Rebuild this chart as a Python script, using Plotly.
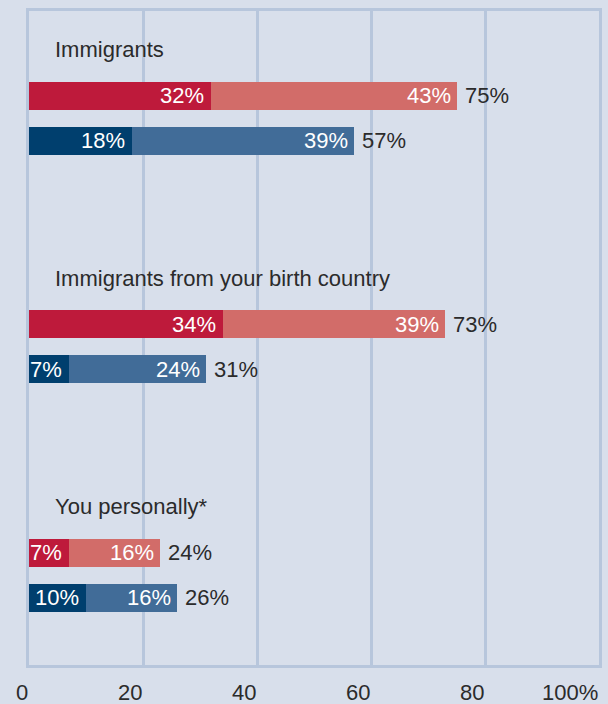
import plotly.graph_objects as go

# ---- data ----
groups = ["Immigrants", "Immigrants from your birth country", "You personally*"]
red_dark = [32, 34, 7]
red_light = [43, 39, 16]
red_total = [75, 73, 24]
blue_dark = [18, 7, 10]
blue_light = [39, 24, 16]
blue_total = [57, 31, 26]
tick_vals = [0, 20, 40, 60, 80, 100]
tick_text = ["0", "20", "40", "60", "80", "100%"]

# ---- style ----
BG = "#d8dfeb"
GRID = "#b7c6dc"
RED_D = "#be1a3b"
RED_L = "#d26c69"
BLUE_D = "#003f6e"
BLUE_L = "#416c98"
TXT = "#2b2b2b"
FONT = "Liberation Sans, Arial, sans-serif"
FS = 22
GROUP_STEP = 5.078
BAR_W = 0.622

red_y = [i * GROUP_STEP for i in range(len(groups))]
blue_y = [y + 1 for y in red_y]

fig = go.Figure()
fig.add_bar(y=red_y, x=red_dark, orientation="h", marker_color=RED_D, width=BAR_W, marker_line_width=0)
fig.add_bar(y=red_y, x=red_light, orientation="h", marker_color=RED_L, width=BAR_W, marker_line_width=0)
fig.add_bar(y=blue_y, x=blue_dark, orientation="h", marker_color=BLUE_D, width=BAR_W, marker_line_width=0)
fig.add_bar(y=blue_y, x=blue_light, orientation="h", marker_color=BLUE_L, width=BAR_W, marker_line_width=0)

ann = []
for i, g in enumerate(groups):
    ann.append(dict(x=0, y=red_y[i] - 1.02, xref="x", yref="y", text=g, showarrow=False,
                    xanchor="left", yanchor="middle", xshift=24, font=dict(size=FS, color=TXT)))
    for y, d, l, t in [(red_y[i], red_dark[i], red_light[i], red_total[i]),
                       (blue_y[i], blue_dark[i], blue_light[i], blue_total[i])]:
        ann.append(dict(x=d, y=y, xref="x", yref="y", text=f"{d}%", showarrow=False,
                        xanchor="right", yanchor="middle", xshift=-5, font=dict(size=FS, color="white")))
        ann.append(dict(x=d + l, y=y, xref="x", yref="y", text=f"{l}%", showarrow=False,
                        xanchor="right", yanchor="middle", xshift=-4, font=dict(size=FS, color="white")))
        ann.append(dict(x=d + l, y=y, xref="x", yref="y", text=f"{t}%", showarrow=False,
                        xanchor="left", yanchor="middle", xshift=6, font=dict(size=FS, color=TXT)))
for v, t in zip(tick_vals, tick_text):
    ann.append(dict(x=v, y=0, xref="x", yref="paper", text=t, showarrow=False,
                    xanchor="right", yanchor="middle", yshift=-27, xshift=1,
                    font=dict(size=FS, color=TXT)))

top_units = 84.5 / 45
total_units = 654 / 45

fig.update_layout(
    width=608, height=704,
    margin=dict(l=29, r=6, t=11, b=39),
    paper_bgcolor=BG, plot_bgcolor=BG,
    barmode="stack", bargap=0, showlegend=False,
    font=dict(family=FONT, size=FS, color=TXT),
    annotations=ann,
    xaxis=dict(range=[0, 100], tickvals=tick_vals, showticklabels=False, showgrid=True,
               gridcolor=GRID, gridwidth=2.5, zeroline=False, showline=True, linecolor=GRID,
               linewidth=2.5, mirror=True, ticks="", fixedrange=True),
    yaxis=dict(range=[total_units - top_units, -top_units], showticklabels=False, showgrid=False,
               zeroline=False, showline=True, linecolor=GRID, linewidth=2.5, mirror=True,
               ticks="", fixedrange=True),
)

fig.write_html(
    "out.html",
    config={"displayModeBar": False},
    post_script="document.body.style.margin='0';document.documentElement.style.overflow='hidden';",
)
